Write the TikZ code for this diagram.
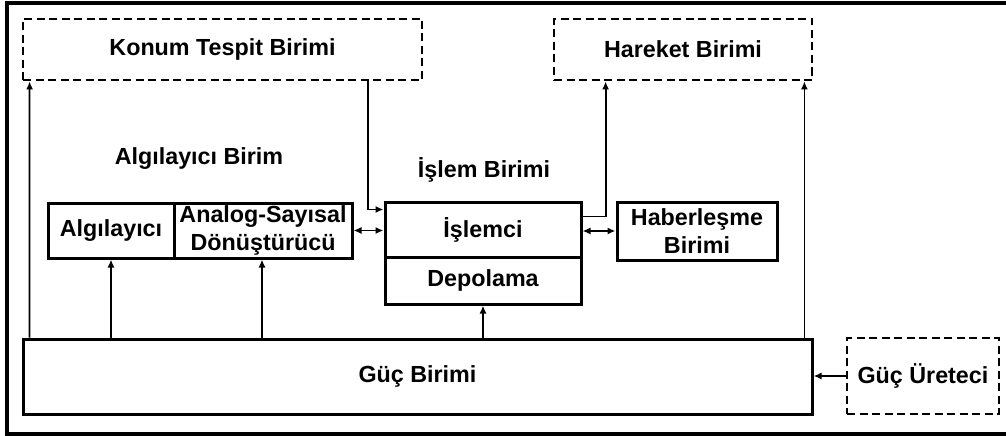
\documentclass[tikz,border=0pt]{standalone}
\usepackage{fontspec}
\setmainfont{Liberation Sans}
\usetikzlibrary{arrows.meta}
\begin{document}
\begin{tikzpicture}[x=1pt,y=-1pt,
  every node/.style={font=\fontsize{23.3}{27.5}\selectfont\bfseries, inner sep=0pt, align=center},
  unit/.style={draw, line width=3pt, minimum width=#1},
  ext/.style={draw, line width=2.8pt, dash pattern=on 8pt off 4.5pt, minimum width=#1},
  tip/.style={},
  arr/.style={line width=1.8pt, -{Latex[length=8pt,width=7pt]}},
  darr/.style={line width=1.8pt, {Latex[length=8pt,width=7pt]}-{Latex[length=8pt,width=7pt]}},
  lbl/.style={}]
\useasboundingbox (0,0) rectangle (1006,436);
% outer frame (its right edge lies past the page)
\draw[line width=3.2pt] (1016,3) -- (7,3) -- (7,434) -- (1016,434);

% external units
\node[ext=399pt, minimum height=61pt] (konum) at (222.5,49.5) {Konum Tespit Birimi};
\node[ext=258pt, minimum height=61pt] (hareket) at (683,49.5) {Hareket Birimi};
\node[ext=152pt, minimum height=76pt] (gu) at (923,376) {Güç Üreteci};

% sensing unit
\node[lbl] (algbirim) at (199,159) {Algılayıcı Birim};
\node[unit=126pt, minimum height=55pt] (alg) at (111,230.5) {Algılayıcı};
\node[unit=178pt, minimum height=55pt] (adc) at (263,230.5) {Analog-Sayısal\\Dönüştürücü};

% processing unit
\node[lbl] (islbirim) at (484,170) {İşlem Birimi};
\node[unit=196pt, minimum height=55pt] (isl) at (483,229.5) {İşlemci};
\node[unit=196pt, minimum height=47pt] (dep) at (483,280.5) {Depolama};

% communication unit
\node[unit=160pt, minimum height=58pt] (hab) at (697,231) {Haberleşme\\Birimi};

% power unit
\node[unit=789pt, minimum height=75pt] (guc) at (417.5,376.5) {Güç Birimi};

% power feeds
\draw[arr] ([xshift=8pt]guc.north west) -- ([xshift=8pt]konum.south west);
\draw[arr] (alg.south |- guc.north) -- (alg.south);
\draw[arr] ([xshift=-1pt]adc.south |- guc.north) -- ([xshift=-1pt]adc.south);
\draw[arr] (dep.south |- guc.north) -- (dep.south);
\draw[arr] ([xshift=-9pt]hareket.south east |- guc.north) -- ([xshift=-9pt]hareket.south east);
\draw[arr] (gu.west) -- (gu.west -| guc.east);

% data paths
\coordinate (kt) at ([xshift=145.5pt]konum.south);
\draw[arr] (kt) |- ([yshift=-9pt]isl.north west);
\draw[arr] ([yshift=-16pt]isl.north east) -| ([xshift=53pt]hareket.south west);
\draw[darr] (adc.east) -- (adc.east -| isl.west);
\draw[darr] (hab.west -| isl.east) -- (hab.west);
\end{tikzpicture}
\end{document}
